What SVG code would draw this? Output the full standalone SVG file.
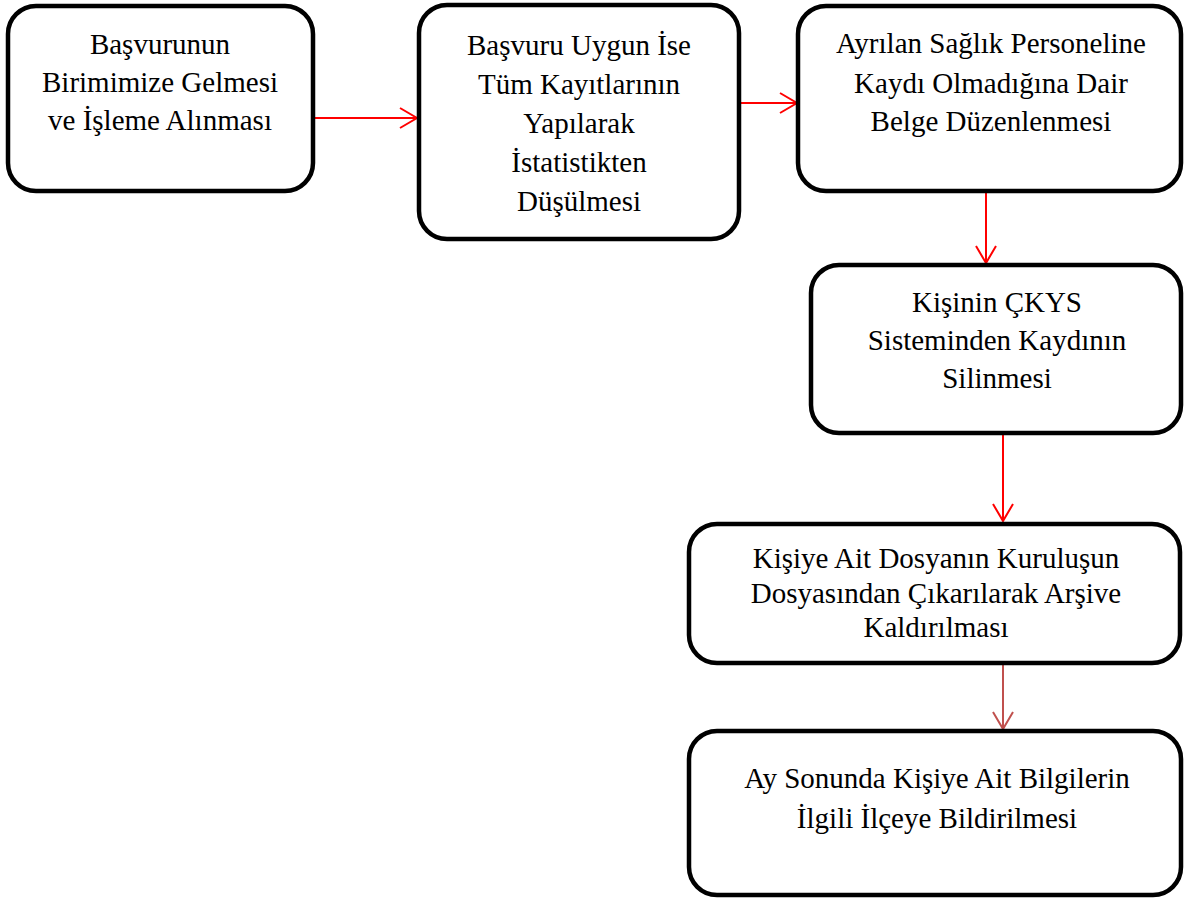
<svg xmlns="http://www.w3.org/2000/svg" width="1185" height="899" viewBox="0 0 1185 899">
  <defs>
    <style>
      .box { fill: #ffffff; stroke: #000000; stroke-width: 4.5; }
      .lbl { font-family: "Liberation Serif", "Times New Roman", serif; font-size: 29px; fill: #000000; text-anchor: middle; }
      .flow { fill: none; stroke: #ff0000; stroke-width: 2; }
      .flow-dark { fill: none; stroke: #c0504d; stroke-width: 2; }
    </style>
    <marker id="head" markerUnits="userSpaceOnUse" markerWidth="20" markerHeight="24" refX="18" refY="11" orient="auto">
      <path d="M1,1 L18,11 L1,21" fill="none" stroke="#ff0000" stroke-width="2"/>
    </marker>
    <marker id="head-dark" markerUnits="userSpaceOnUse" markerWidth="20" markerHeight="24" refX="18" refY="11" orient="auto">
      <path d="M1,1 L18,11 L1,21" fill="none" stroke="#c0504d" stroke-width="2"/>
    </marker>
  </defs>

  <rect width="1185" height="899" fill="#ffffff"/>

  <!-- connectors -->
  <g id="connectors">
    <line class="flow" x1="315" y1="118" x2="417" y2="118" marker-end="url(#head)"/>
    <line class="flow" x1="741" y1="103" x2="797" y2="103" marker-end="url(#head)"/>
    <line class="flow" x1="986" y1="193" x2="986" y2="263" marker-end="url(#head)"/>
    <line class="flow" x1="1003" y1="435" x2="1003" y2="521" marker-end="url(#head)"/>
    <line class="flow-dark" x1="1003" y1="665" x2="1003" y2="729" marker-end="url(#head-dark)"/>
  </g>

  <!-- step 1 -->
  <g id="basvuru">
    <rect class="box" x="8" y="6" width="305" height="185" rx="28" ry="28"/>
    <text class="lbl" x="160" y="54">Başvurunun</text>
    <text class="lbl" x="160" y="92">Birimimize Gelmesi</text>
    <text class="lbl" x="160" y="130">ve İşleme Alınması</text>
  </g>

  <!-- step 2 -->
  <g id="kayit">
    <rect class="box" x="419" y="5" width="320" height="234" rx="28" ry="28"/>
    <text class="lbl" x="579" y="55">Başvuru Uygun İse</text>
    <text class="lbl" x="579" y="94">Tüm Kayıtlarının</text>
    <text class="lbl" x="579" y="133">Yapılarak</text>
    <text class="lbl" x="579" y="172">İstatistikten</text>
    <text class="lbl" x="579" y="211">Düşülmesi</text>
  </g>

  <!-- step 3 -->
  <g id="belge">
    <rect class="box" x="798" y="6" width="383" height="185" rx="28" ry="28"/>
    <text class="lbl" x="991" y="53">Ayrılan Sağlık Personeline</text>
    <text class="lbl" x="991" y="93">Kaydı Olmadığına Dair</text>
    <text class="lbl" x="991" y="131">Belge Düzenlenmesi</text>
  </g>

  <!-- step 4 -->
  <g id="ckys">
    <rect class="box" x="811" y="265" width="370" height="168" rx="28" ry="28"/>
    <text class="lbl" x="997" y="312">Kişinin ÇKYS</text>
    <text class="lbl" x="997" y="350">Sisteminden Kaydının</text>
    <text class="lbl" x="997" y="388">Silinmesi</text>
  </g>

  <!-- step 5 -->
  <g id="arsiv">
    <rect class="box" x="689" y="524" width="491" height="139" rx="28" ry="28"/>
    <text class="lbl" x="936" y="568">Kişiye Ait Dosyanın Kuruluşun</text>
    <text class="lbl" x="936" y="603">Dosyasından Çıkarılarak Arşive</text>
    <text class="lbl" x="936" y="637">Kaldırılması</text>
  </g>

  <!-- step 6 -->
  <g id="bildirim">
    <rect class="box" x="689" y="731" width="492" height="164" rx="28" ry="28"/>
    <text class="lbl" x="937" y="788">Ay Sonunda Kişiye Ait Bilgilerin</text>
    <text class="lbl" x="937" y="828">İlgili İlçeye Bildirilmesi</text>
  </g>
</svg>
